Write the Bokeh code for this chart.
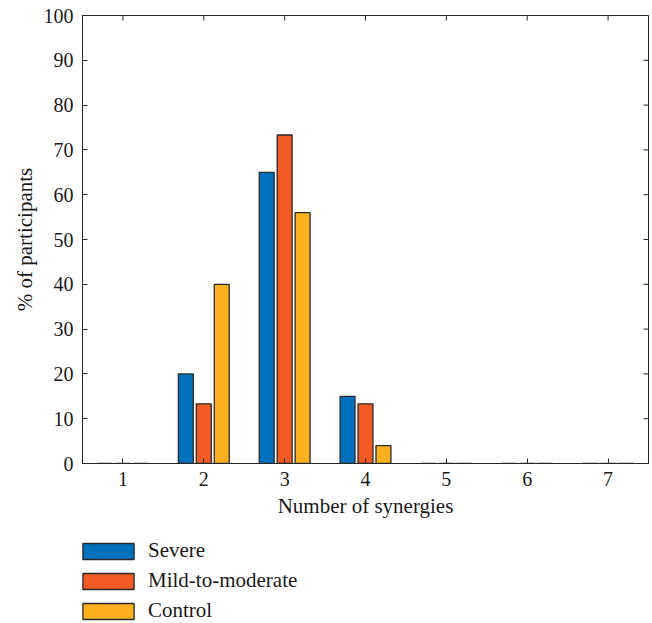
import math
from bokeh.plotting import figure
from bokeh.layouts import column
from bokeh.models import (Range1d, FixedTicker, ColumnDataSource,
                          Legend, LegendItem)
from bokeh.transform import dodge
from bokeh.embed import file_html
from bokeh.resources import INLINE

# ---- data ----
synergies = [1, 2, 3, 4, 5, 6, 7]
severe = [0, 20, 65, 15, 0, 0, 0]
mild_to_moderate = [0, 13.33, 73.33, 13.33, 0, 0, 0]
control = [0, 40, 56, 4, 0, 0, 0]
series_labels = ["Severe", "Mild-to-moderate", "Control"]
series_colors = ["#0072BD", "#F15A22", "#FBB01F"]
y_ticks = [0, 10, 20, 30, 40, 50, 60, 70, 80, 90, 100]
x_lo, x_hi = 0.5, 7.5
y_lo, y_hi = 0, 100

FONT = "Liberation Serif"
TXT = "#1a1a1a"
AX = "#262626"
EDGE = "#2a2a2a"

source = ColumnDataSource(dict(x=synergies, severe=severe,
                               mild=mild_to_moderate, control=control))
cols = ["severe", "mild", "control"]
offsets = [-0.222, 0.0, 0.222]

p = figure(width=650, height=525, x_range=Range1d(x_lo, x_hi), y_range=Range1d(y_lo, y_hi),
           output_backend="svg", toolbar_location=None,
           min_border_left=82, min_border_top=15, min_border_right=2, min_border_bottom=62)

p.xgrid.grid_line_color = None
p.ygrid.grid_line_color = None
p.outline_line_color = AX
p.outline_line_width = 1
p.background_fill_color = "white"
p.border_fill_color = "white"

for col, off, color in zip(cols, offsets, series_colors):
    p.vbar(x=dodge("x", off), top=col, width=0.185, source=source,
           fill_color=color, line_color=EDGE, line_width=1.3)

# inward ticks on the top and right edges (half of each dash is clipped by the frame)
p.scatter(x=synergies, y=[y_hi] * len(synergies), marker="dash", size=10,
          angle=math.pi / 2, line_color=AX, line_width=1)
p.scatter(x=[x_hi] * len(y_ticks), y=y_ticks, marker="dash", size=10,
          line_color=AX, line_width=1)

def style_axis(ax):
    ax.axis_line_color = AX
    ax.axis_line_width = 1
    ax.major_tick_line_color = AX
    ax.major_tick_in = 5
    ax.major_tick_out = 0
    ax.minor_tick_line_color = None
    ax.major_label_text_font = FONT
    ax.major_label_text_font_size = "20px"
    ax.major_label_text_color = TXT
    ax.axis_label_text_font = FONT
    ax.axis_label_text_font_size = "21px"
    ax.axis_label_text_font_style = "normal"
    ax.axis_label_text_color = TXT

xa = p.xaxis[0]
xa.ticker = FixedTicker(ticks=synergies)
xa.axis_label = "Number of synergies"
style_axis(xa)
xa.major_label_standoff = 8
xa.axis_label_standoff = 5

ya = p.yaxis[0]
ya.ticker = FixedTicker(ticks=y_ticks)
ya.axis_label = "% of participants"
style_axis(ya)
ya.major_label_standoff = 9
ya.axis_label_standoff = 4

# ---- legend (separate strip below the chart) ----
# same series as hidden renderers; only their legend entries are drawn
lf = figure(width=650, height=98, x_range=Range1d(50, 51), y_range=Range1d(-2, -1),
            output_backend="svg", toolbar_location=None,
            min_border_left=82, min_border_top=13, min_border_right=0, min_border_bottom=0)
lf.axis.visible = False
lf.grid.visible = False
lf.outline_line_color = None
lf.background_fill_color = "white"
lf.border_fill_color = "white"

items = []
for lab, col, off, color in zip(series_labels, cols, offsets, series_colors):
    r = lf.vbar(x=dodge("x", off), top=col, width=0.185, source=source,
                fill_color=color, line_color=EDGE, line_width=1.3)
    r.visible = False
    items.append(LegendItem(label=lab, renderers=[r]))

legend = Legend(items=items, location=(-6, 0), orientation="vertical",
                glyph_width=64, glyph_height=20, label_height=20,
                label_standoff=8, spacing=5, padding=0, margin=0,
                label_text_font=FONT, label_text_font_size="21px",
                label_text_color=TXT, inactive_fill_alpha=0,
                border_line_color=None, background_fill_alpha=0)
lf.add_layout(legend, "center")

open("out.html", "w").write(file_html(column(p, lf), INLINE))
